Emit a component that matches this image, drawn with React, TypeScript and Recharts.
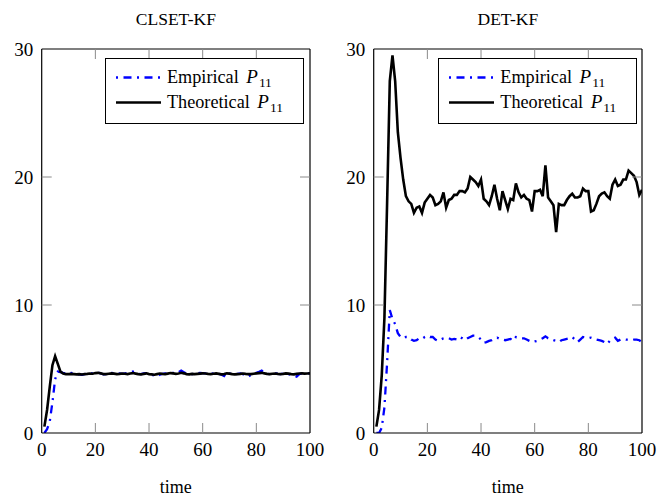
import React from 'react';
import { LineChart, Line, XAxis, YAxis, Legend } from 'recharts';

// ---------- data ----------
const times: number[] = Array.from({ length: 100 }, (_, i) => i + 1);
const xTicks = [0, 20, 40, 60, 80, 100];
const yTicks = [0, 10, 20, 30];
const titles = ['CLSET-KF', 'DET-KF'];
const seriesNames = ['Empirical', 'Theoretical'];
const xLabel = 'time';

const clsetEmpirical = [
  0.0, 0.3, 0.9, 2.4, 4.2, 4.8, 4.75, 4.7, 4.66, 4.65,
  4.7, 4.65, 4.6, 4.58, 4.55, 4.6, 4.66, 4.7, 4.65, 4.7,
  4.72, 4.65, 4.58, 4.6, 4.66, 4.7, 4.66, 4.6, 4.65, 4.62,
  4.65, 4.7, 4.75, 4.8, 4.7, 4.62, 4.6, 4.65, 4.68, 4.6,
  4.55, 4.48, 4.4, 4.55, 4.62, 4.66, 4.6, 4.65, 4.7, 4.66,
  4.75, 4.87, 4.75, 4.62, 4.58, 4.6, 4.62, 4.66, 4.7, 4.68,
  4.65, 4.6, 4.62, 4.66, 4.7, 4.62, 4.55, 4.45, 4.8, 4.66,
  4.6, 4.58, 4.62, 4.66, 4.6, 4.5, 4.4, 4.55, 4.62, 4.7,
  4.78, 4.87, 4.7, 4.62, 4.6, 4.65, 4.68, 4.62, 4.6, 4.64,
  4.66, 4.6, 4.55, 4.48, 4.4, 4.6, 4.66, 4.64, 4.65, 4.66,
];

const clsetTheoretical = [
  0.5, 1.8, 3.6, 5.3, 6.0, 5.4, 4.8, 4.65, 4.6, 4.6,
  4.62, 4.6, 4.58, 4.6, 4.57, 4.6, 4.62, 4.65, 4.63, 4.68,
  4.7, 4.66, 4.6, 4.6, 4.63, 4.66, 4.64, 4.6, 4.62, 4.65,
  4.63, 4.6, 4.65, 4.68, 4.64, 4.6, 4.58, 4.62, 4.66, 4.6,
  4.58, 4.55, 4.6, 4.65, 4.62, 4.6, 4.64, 4.68, 4.66, 4.62,
  4.65, 4.7, 4.66, 4.6, 4.58, 4.62, 4.6, 4.62, 4.64, 4.66,
  4.65, 4.62, 4.6, 4.63, 4.66, 4.62, 4.58, 4.6, 4.66, 4.64,
  4.6, 4.58, 4.6, 4.62, 4.65, 4.62, 4.6, 4.6, 4.63, 4.66,
  4.68, 4.7, 4.66, 4.62, 4.6, 4.63, 4.65, 4.62, 4.6, 4.62,
  4.66, 4.64, 4.6, 4.58, 4.62, 4.65, 4.66, 4.64, 4.65, 4.66,
];

const detEmpirical = [
  0.0, 0.0, 0.4, 2.0, 5.5, 9.6, 8.9, 8.5, 7.8, 7.5,
  7.4, 7.5, 7.5, 7.3, 7.2, 7.25, 7.4, 7.35, 7.5, 7.6,
  7.5, 7.5, 7.3, 7.2, 7.3, 7.4, 7.45, 7.4, 7.3, 7.35,
  7.3, 7.5, 7.4, 7.25, 7.4, 7.5, 7.6, 7.6, 7.5, 7.3,
  7.05, 7.1, 7.2, 7.25, 7.4, 7.45, 7.35, 7.3, 7.25, 7.3,
  7.35, 7.2, 7.5, 7.45, 7.4, 7.4, 7.3, 7.2, 7.1, 7.15,
  7.2, 7.3, 7.4, 7.55, 7.4, 7.35, 7.25, 7.2, 7.1, 7.25,
  7.3, 7.35, 7.4, 7.5, 7.3, 7.1, 7.3, 7.5, 7.45, 7.4,
  7.45, 7.4, 7.3, 7.25, 7.2, 7.1, 6.95, 7.2, 7.35, 7.45,
  7.2, 7.3, 7.35, 7.3, 7.3, 7.25, 7.3, 7.3, 7.25, 7.1,
];

const detTheoretical = [
  0.5, 1.8, 4.5, 9.0, 18.0, 27.5, 29.5, 27.5, 23.5, 21.5,
  19.8, 18.5, 18.1, 17.9, 17.2, 17.6, 17.7, 17.2, 18.0, 18.3,
  18.6, 18.4, 17.8, 17.9, 18.1, 18.8, 17.6, 18.2, 18.3, 18.6,
  18.6, 18.9, 18.9, 18.8, 19.1, 20.0, 19.8, 19.6, 19.3, 19.8,
  18.3, 18.1, 17.8, 18.5, 19.4, 18.3, 17.4, 18.9, 18.2, 17.5,
  18.3, 18.2, 19.5, 18.8, 18.4, 18.6, 18.3, 18.2, 17.3, 18.9,
  18.9, 19.0, 18.5, 20.9, 18.4, 18.1, 17.8, 15.7, 17.9, 17.8,
  17.8, 18.2, 18.5, 18.7, 18.4, 18.4, 18.5, 19.1, 18.9, 18.9,
  17.3, 17.4, 17.9, 18.5, 18.7, 18.8, 18.5, 18.3, 19.4, 19.8,
  19.3, 19.4, 19.8, 19.8, 20.5, 20.3, 20.1, 19.6, 18.6, 19.0,
];

const clsetData = times.map((t, i) => ({ t, emp: clsetEmpirical[i], theo: clsetTheoretical[i] }));
const detData = times.map((t, i) => ({ t, emp: detEmpirical[i], theo: detTheoretical[i] }));

// ---------- styles ----------
const FONT = '"Liberation Serif", "Times New Roman", serif';
const TICK_LEN = 10;
const TICK_COLOR = '#8a8a8a';
const FRAME = { stroke: '#000', strokeWidth: 1.2 };
const EMP_DASH = '8 5.5 2 5.5';
const AX = 1; // thickness reserved by each axis
const xEnds = [xTicks[0], xTicks[xTicks.length - 1]];
const yEnds = [yTicks[0], yTicks[yTicks.length - 1]];

const BottomTick = (props: any) => {
  const { x, y, payload } = props;
  return (
    <g>
      {!xEnds.includes(payload.value) && (
        <line x1={x} y1={y} x2={x} y2={y - TICK_LEN} stroke={TICK_COLOR} strokeWidth={1} />
      )}
      <text x={x} y={y + 23} textAnchor="middle" fontFamily={FONT} fontSize={19} fill="#000">
        {payload.value}
      </text>
    </g>
  );
};

const TopTick = (props: any) => {
  const { x, y, payload } = props;
  if (xEnds.includes(payload.value)) return <g />;
  return <line x1={x} y1={y} x2={x} y2={y + TICK_LEN} stroke={TICK_COLOR} strokeWidth={1} />;
};

const LeftTick = (props: any) => {
  const { x, y, payload } = props;
  return (
    <g>
      {!yEnds.includes(payload.value) && (
        <line x1={x} y1={y} x2={x + TICK_LEN} y2={y} stroke={TICK_COLOR} strokeWidth={1} />
      )}
      <text x={x - 8.4} y={y + 6.7} textAnchor="end" fontFamily={FONT} fontSize={19} fill="#000">
        {payload.value}
      </text>
    </g>
  );
};

const RightTick = (props: any) => {
  const { x, y, payload } = props;
  if (yEnds.includes(payload.value)) return <g />;
  return <line x1={x} y1={y} x2={x - TICK_LEN} y2={y} stroke={TICK_COLOR} strokeWidth={1} />;
};

const LegendBox = (props: any) => {
  const payload = props.payload || [];
  return (
    <div
      style={{
        width: 199,
        height: 66,
        boxSizing: 'border-box',
        border: '1.2px solid #000',
        background: '#fff',
        paddingTop: 6.5,
        fontFamily: FONT,
        fontSize: 18.2,
        color: '#000',
      }}
    >
      {payload.map((entry: any, i: number) => {
        const dashed = entry.payload && entry.payload.strokeDasharray;
        return (
          <div key={i} style={{ display: 'flex', alignItems: 'center', height: 25 }}>
            <svg width={61} height={25} style={{ display: 'block' }}>
              <line
                x1={10}
                y1={12.5}
                x2={55}
                y2={12.5}
                stroke={entry.color}
                strokeWidth={dashed ? 2.3 : 2.6}
                strokeDasharray={dashed ? EMP_DASH : undefined}
                strokeDashoffset={dashed ? 13.5 : undefined}
              />
            </svg>
            <span style={{ whiteSpace: 'nowrap', lineHeight: '25px' }}>
              {entry.value}{' '}
              <i style={{ marginLeft: 3, fontSize: 19 }}>P</i>
              <span style={{ fontSize: 13.5, position: 'relative', top: 4, marginLeft: 1 }}>11</span>
            </span>
          </div>
        );
      })}
    </div>
  );
};

type PanelProps = {
  title: string;
  data: any[];
  left: number;
  plotLeft: number;
  plotRight: number;
  legendLeft: number;
};

const CHART_W = 329;
const CHART_H = 498;
const PLOT_TOP = 49;
const PLOT_BOTTOM = 433;

const Panel = ({ title, data, left, plotLeft, plotRight, legendLeft }: PanelProps) => (
  <div style={{ position: 'absolute', left, top: 0 }}>
    <LineChart
      width={CHART_W}
      height={CHART_H}
      data={data}
      margin={{
        top: PLOT_TOP - AX,
        bottom: CHART_H - PLOT_BOTTOM - AX,
        left: plotLeft - AX,
        right: CHART_W - plotRight - AX,
      }}
    >
      <XAxis
        dataKey="t"
        type="number"
        domain={[0, 100]}
        ticks={xTicks}
        interval={0}
        allowDataOverflow
        height={AX}
        tickSize={0}
        tickMargin={0}
        tickLine={false}
        axisLine={FRAME}
        tick={<BottomTick />}
        label={{ value: xLabel, position: 'bottom', offset: 46, fontFamily: FONT, fontSize: 18, fill: '#000' }}
      />
      <XAxis
        xAxisId="top"
        dataKey="t"
        type="number"
        orientation="top"
        domain={[0, 100]}
        ticks={xTicks}
        interval={0}
        allowDataOverflow
        height={AX}
        tickSize={0}
        tickMargin={0}
        tickLine={false}
        axisLine={FRAME}
        tick={<TopTick />}
        label={{ value: title, position: 'top', offset: 23, fontFamily: FONT, fontSize: 17.5, fill: '#000' }}
      />
      <YAxis
        type="number"
        domain={[0, 30]}
        ticks={yTicks}
        interval={0}
        allowDataOverflow
        width={AX}
        tickSize={0}
        tickMargin={0}
        tickLine={false}
        axisLine={FRAME}
        tick={<LeftTick />}
      />
      <YAxis
        yAxisId="right"
        orientation="right"
        type="number"
        domain={[0, 30]}
        ticks={yTicks}
        interval={0}
        allowDataOverflow
        width={AX}
        tickSize={0}
        tickMargin={0}
        tickLine={false}
        axisLine={FRAME}
        tick={<RightTick />}
      />
      <Legend
        layout="horizontal"
        verticalAlign="middle"
        align="center"
        wrapperStyle={{ position: 'absolute', left: legendLeft, top: 57.7, width: 199, height: 66 }}
        content={<LegendBox />}
      />
      <Line
        name={seriesNames[0]}
        dataKey="emp"
        stroke="#0000ff"
        strokeWidth={2.3}
        strokeDasharray={EMP_DASH}
        dot={false}
        activeDot={false}
        isAnimationActive={false}
      />
      <Line
        name={seriesNames[1]}
        dataKey="theo"
        stroke="#000"
        strokeWidth={2.6}
        dot={false}
        activeDot={false}
        isAnimationActive={false}
      />
    </LineChart>
  </div>
);

export default function App() {
  return (
    <div style={{ position: 'absolute', left: 0, top: 0, width: 658, height: 498, background: '#fff', overflow: 'hidden' }}>
      <Panel title={titles[0]} data={clsetData} left={0} plotLeft={41.7} plotRight={310} legendLeft={105} />
      <Panel title={titles[1]} data={detData} left={329} plotLeft={44.7} plotRight={313} legendLeft={109.3} />
    </div>
  );
}
